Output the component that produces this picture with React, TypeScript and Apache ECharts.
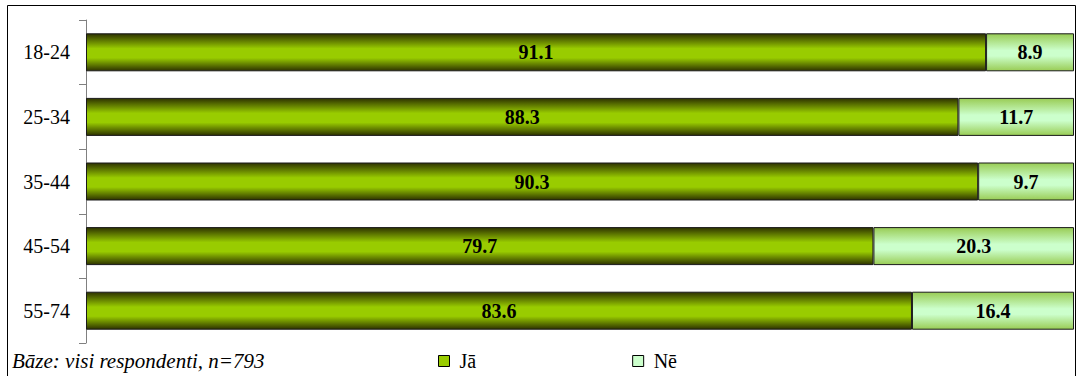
import React, { useEffect, useRef } from "react";
import * as echarts from "echarts";

const categories = ["18-24", "25-34", "35-44", "45-54", "55-74"];
const yesValues = [91.1, 88.3, 90.3, 79.7, 83.6];
const noValues = [8.9, 11.7, 9.7, 20.3, 16.4];
const seriesNames = ["Jā", "Nē"];
const footnote = "Bāze: visi respondenti, n=793";

const FONT = "Liberation Serif";

export default function App() {
  const ref = useRef<HTMLDivElement>(null);
  useEffect(() => {
    if (!ref.current) return;
    const chart = echarts.init(ref.current, undefined, { renderer: "svg" });
    const yesGrad = new echarts.graphic.LinearGradient(0, 0, 0, 1, [
      { offset: 0, color: "#2e3300" },
      { offset: 0.4, color: "#99cc00" },
      { offset: 0.65, color: "#99cc00" },
      { offset: 1, color: "#2e3300" },
    ]);
    const noGrad = new echarts.graphic.LinearGradient(0, 0, 0, 1, [
      { offset: 0, color: "#99cc55" },
      { offset: 0.45, color: "#ccffcc" },
      { offset: 0.6, color: "#ccffcc" },
      { offset: 1, color: "#99cc55" },
    ]);
    const label = {
      show: true,
      position: "inside",
      fontFamily: FONT,
      fontWeight: "bold",
      fontSize: 20,
      color: "#000",
      formatter: (p: any) => Number(p.value).toFixed(1),
    };
    chart.setOption({
      animation: false,
      backgroundColor: "#fff",
      textStyle: { fontFamily: FONT },
      grid: { left: 86, right: 3, top: 20, bottom: 33, containLabel: false },
      xAxis: { type: "value", min: 0, max: 100, show: false },
      yAxis: {
        type: "category",
        data: categories,
        inverse: true,
        axisLine: { show: true, lineStyle: { color: "#808080", width: 1 } },
        axisTick: { show: true, length: 7, lineStyle: { color: "#808080" } },
        axisLabel: { fontFamily: FONT, fontSize: 20, color: "#000", margin: 16 },
        splitLine: { show: false },
      },
      legend: {
        left: 438,
        top: 351,
        padding: 0,
        itemWidth: 11,
        itemHeight: 11,
        itemGap: 156,
        icon: "rect",
        textStyle: { fontFamily: FONT, fontSize: 20, color: "#000", padding: [0, 0, 0, 5] },
        data: [
          { name: seriesNames[0], itemStyle: { color: "#99cc00", borderColor: "#000", borderWidth: 1 } },
          { name: seriesNames[1], itemStyle: { color: "#ccffcc", borderColor: "#000", borderWidth: 1 } },
        ],
      },
      graphic: [
        {
          type: "rect",
          shape: { x: 7.5, y: 5.5, width: 1068, height: 390 },
          style: { fill: "none", stroke: "#000", lineWidth: 1 },
          silent: true,
          z: 100,
        },
        {
          type: "text",
          left: 12,
          top: 350,
          style: {
            text: footnote,
            font: "italic 21px Liberation Serif",
            fill: "#000",
          },
        },
      ],
      series: [
        {
          name: seriesNames[0],
          type: "bar",
          stack: "total",
          barWidth: 38,
          data: yesValues,
          itemStyle: { color: yesGrad, borderColor: "#1a1a1a", borderWidth: 1 },
          label,
        },
        {
          name: seriesNames[1],
          type: "bar",
          stack: "total",
          barWidth: 38,
          data: noValues,
          itemStyle: { color: noGrad, borderColor: "#1a1a1a", borderWidth: 1 },
          label,
        },
      ],
    });
    return () => chart.dispose();
  }, []);
  return (
    <div
      ref={ref}
      style={{ position: "absolute", left: 0, top: 0, width: 1077, height: 376 }}
    />
  );
}
